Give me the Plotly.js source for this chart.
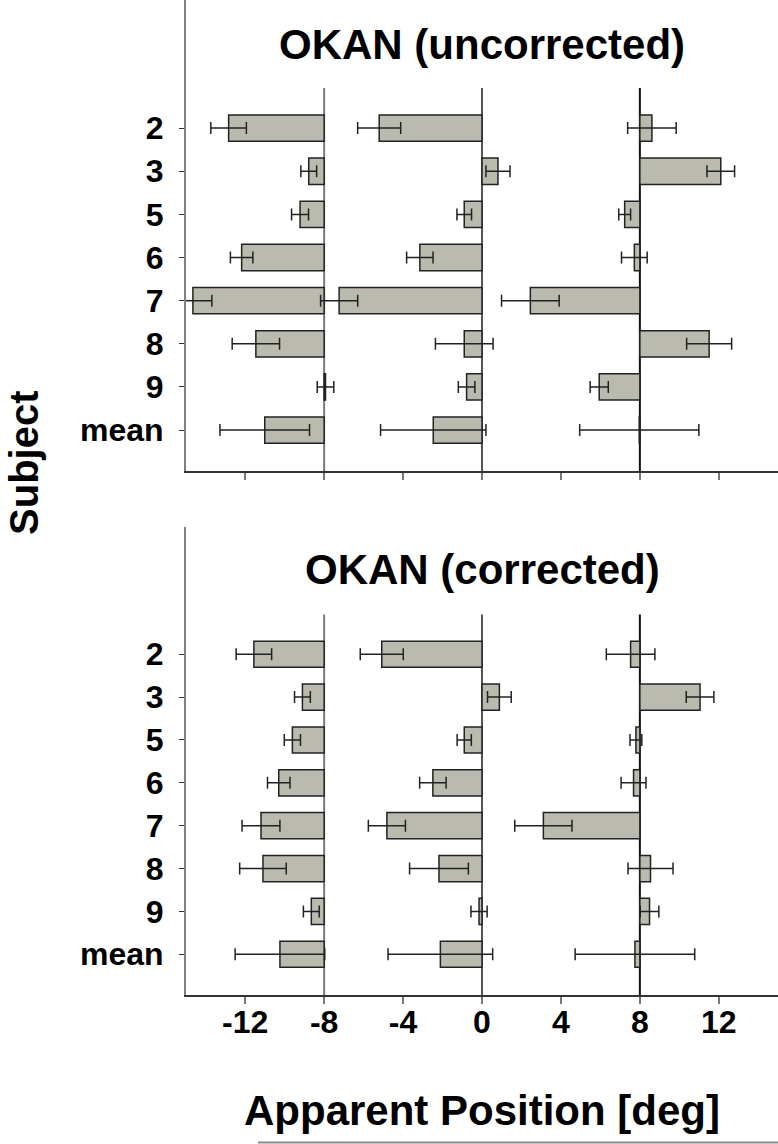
<!DOCTYPE html>
<html>
<head>
<meta charset="utf-8">
<script src="https://cdn.plot.ly/plotly-3.0.1.min.js"></script>
<style>html,body{margin:0;padding:0;background:#fff;}#chart{width:778px;height:1144px;}</style>
</head>
<body>
<div id="chart"></div>
<script>
// ---- data (apparent position at bar end, and SE) ----
const subjects = ['2', '3', '5', '6', '7', '8', '9', 'mean'];
const bases = [-8, 0, 8];
const xTicks = [-12, -8, -4, 0, 4, 8, 12];

// OKAN (uncorrected)
const uncLeftEnd  = [-12.84, -8.78, -9.22, -12.18, -14.65, -11.46, -7.93, -11.01];
const uncLeftErr  = [0.90, 0.40, 0.43, 0.57, 0.96, 1.20, 0.42, 2.27];
const uncMidEnd   = [-5.21, 0.81, -0.90, -3.15, -7.24, -0.90, -0.78, -2.47];
const uncMidErr   = [1.09, 0.61, 0.37, 0.67, 0.94, 1.46, 0.42, 2.67];
const uncRightEnd = [8.61, 12.10, 7.23, 7.72, 2.45, 11.51, 5.94, 7.97];
const uncRightErr = [1.23, 0.70, 0.30, 0.65, 1.46, 1.14, 0.46, 3.02];

// OKAN (corrected)
const corLeftEnd  = [-11.56, -9.10, -9.61, -10.30, -11.20, -11.10, -8.65, -10.24];
const corLeftErr  = [0.90, 0.40, 0.41, 0.57, 0.96, 1.18, 0.40, 2.27];
const corMidEnd   = [-5.08, 0.88, -0.90, -2.49, -4.82, -2.18, -0.15, -2.11];
const corMidErr   = [1.09, 0.60, 0.36, 0.67, 0.94, 1.49, 0.41, 2.65];
const corRightEnd = [7.53, 11.05, 7.80, 7.68, 3.11, 8.54, 8.49, 7.75];
const corRightErr = [1.23, 0.70, 0.30, 0.63, 1.45, 1.14, 0.47, 3.03];

const titles = ['OKAN (uncorrected)', 'OKAN (corrected)'];
const xTitle = 'Apparent Position [deg]';
const yTitle = 'Subject';

// ---- styling ----
const FONT = 'Liberation Sans, Arial, Helvetica, sans-serif';
const barFill = '#babaae';
const barLine = '#222222';
const Y_BOTTOM = 7.95, Y_TOP = -2.97, LINE_TOP = -0.93;

function mkBar(ends, errs, base, xa, ya) {
  return {
    type: 'bar', orientation: 'h',
    y: subjects,
    x: ends.map(v => v - base),
    base: base,
    width: 0.61,
    xaxis: xa, yaxis: ya,
    marker: {color: barFill, line: {color: barLine, width: 1.5}},
    error_x: {type: 'data', array: errs, visible: true, color: '#222', thickness: 1.5, width: 6},
    hoverinfo: 'skip', showlegend: false
  };
}

const traces = [
  mkBar(uncLeftEnd, uncLeftErr, bases[0], 'x2', 'y2'),
  mkBar(uncMidEnd, uncMidErr, bases[1], 'x2', 'y2'),
  mkBar(uncRightEnd, uncRightErr, bases[2], 'x2', 'y2'),
  mkBar(corLeftEnd, corLeftErr, bases[0], 'x', 'y'),
  mkBar(corMidEnd, corMidErr, bases[1], 'x', 'y'),
  mkBar(corRightEnd, corRightErr, bases[2], 'x', 'y')
];

const baseColors = ['#7a7a7a', '#555555', '#111111'];
const shapes = [];
[['x2', 'y2'], ['x', 'y']].forEach(([xa, ya]) => {
  bases.forEach((b, i) => {
    shapes.push({type: 'line', xref: xa, yref: ya, x0: b, x1: b, y0: Y_BOTTOM, y1: LINE_TOP,
      line: {color: baseColors[i], width: 2}, layer: 'below'});
  });
});
// stray rule at the very bottom of the figure
shapes.push({type: 'line', xref: 'paper', yref: 'paper', x0: 0.1216, x1: 1, y0: -0.1482, y1: -0.1482,
  line: {color: '#8a8a8a', width: 2}});

const yCommon = {
  type: 'category', categoryorder: 'array', categoryarray: subjects,
  range: [Y_BOTTOM, Y_TOP], fixedrange: true,
  showline: true, linecolor: '#808080', linewidth: 2,
  ticks: 'outside', ticklen: 5, tickcolor: '#333', tickwidth: 1,
  ticklabelstandoff: 9,
  tickfont: {family: FONT, size: 32, color: '#000', weight: 'bold'},
  showgrid: false, zeroline: false
};
const xCommon = {
  range: [-15, 15], tickvals: xTicks, ticktext: xTicks.map(String),
  showline: true, linecolor: '#333', linewidth: 1.5,
  ticks: 'outside', ticklen: 7, tickcolor: '#777', tickwidth: 2,
  tickfont: {family: FONT, size: 32, color: '#000', weight: 'bold'},
  showgrid: false, zeroline: false, fixedrange: true
};

const layout = {
  width: 778, height: 1144,
  margin: {l: 186, r: 0, t: 0, b: 149},
  paper_bgcolor: '#fff', plot_bgcolor: '#fff',
  barmode: 'overlay',
  showlegend: false,
  xaxis: Object.assign({}, xCommon, {anchor: 'y', ticklabelstandoff: -9}),
  yaxis: Object.assign({}, yCommon, {domain: [0, 0.4704], anchor: 'x'}),
  xaxis2: Object.assign({}, xCommon, {anchor: 'y2', matches: 'x', showticklabels: false}),
  yaxis2: Object.assign({}, yCommon, {domain: [0.5266, 1], anchor: 'x2'}),
  shapes: shapes,
  annotations: [
    {text: titles[0], xref: 'paper', yref: 'paper', x: 0.5, y: 0.9548, xanchor: 'center', yanchor: 'middle',
     showarrow: false, font: {family: FONT, size: 42, color: '#000', weight: 'bold'}},
    {text: titles[1], xref: 'paper', yref: 'paper', x: 0.5, y: 0.4281, xanchor: 'center', yanchor: 'middle',
     showarrow: false, font: {family: FONT, size: 42, color: '#000', weight: 'bold'}},
    {text: xTitle, xref: 'paper', yref: 'paper', x: 0.5, y: -0.1156, xanchor: 'center', yanchor: 'middle',
     showarrow: false, font: {family: FONT, size: 42, color: '#000', weight: 'bold'}},
    {text: yTitle, xref: 'paper', yref: 'paper', x: 0, xshift: -162, y: 0.5347, xanchor: 'center', yanchor: 'middle',
     textangle: -90, showarrow: false, font: {family: FONT, size: 40, color: '#000', weight: 'bold'}}
  ]
};

Plotly.newPlot('chart', traces, layout, {staticPlot: true, displayModeBar: false});
</script>
</body>
</html>
